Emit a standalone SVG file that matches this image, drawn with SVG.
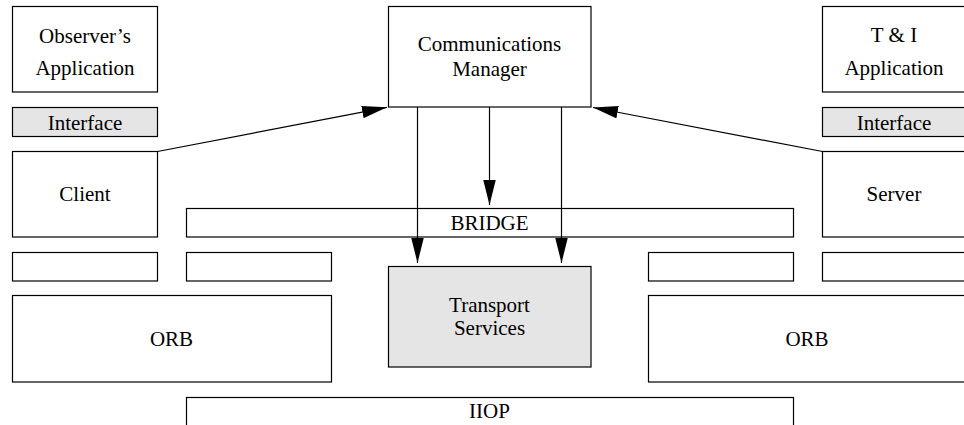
<svg xmlns="http://www.w3.org/2000/svg" width="964" height="425" viewBox="0 0 964 425" font-family="Liberation Serif, DejaVu Serif, serif" font-size="21">
<style>
.b{fill:#fff;stroke:#000;stroke-width:1.2}
.g{fill:#e5e5e5;stroke:#000;stroke-width:1.2}
text{fill:#000;text-anchor:middle}
.c{stroke:#000;stroke-width:1.2;fill:none;marker-end:url(#ah)}
</style>
<defs>
<marker id="ah" markerUnits="userSpaceOnUse" markerWidth="26" markerHeight="13" refX="25" refY="6.25" orient="auto" viewBox="0 0 26 13">
<path d="M0,0 L25,6.25 L0,12.5 z" fill="#000"/>
</marker>
</defs>
<g id="observer-app"><rect class="b" x="12.5" y="6.5" width="145" height="85.5"/><text x="85" y="42.5">Observer’s</text><text x="85" y="75">Application</text></g>
<g id="interface-left"><rect class="g" x="12.5" y="107.5" width="145" height="29"/><text x="85" y="129.5">Interface</text></g>
<g id="client"><rect class="b" x="12.5" y="151.5" width="145" height="85.5"/><text x="85" y="201">Client</text></g>
<g id="comms-manager"><rect class="b" x="388.5" y="6.5" width="202.5" height="100.5"/><text x="489.5" y="50.5">Communications</text><text x="489.5" y="75.5">Manager</text></g>
<g id="ti-app"><rect class="b" x="822.5" y="6.5" width="145" height="85.5"/><text x="894" y="42">T &amp; I</text><text x="894" y="75">Application</text></g>
<g id="interface-right"><rect class="g" x="822.5" y="107.5" width="145" height="29"/><text x="894" y="129.5">Interface</text></g>
<g id="server"><rect class="b" x="822.5" y="151.5" width="145" height="85.5"/><text x="894" y="201">Server</text></g>
<g id="bridge"><rect class="b" x="186.5" y="208.5" width="607" height="28.5"/><text x="489.5" y="230">BRIDGE</text></g>
<g id="slot1"><rect class="b" x="12.5" y="252.5" width="145" height="28.5"/></g>
<g id="slot2"><rect class="b" x="186.5" y="252.5" width="145" height="28.5"/></g>
<g id="slot3"><rect class="b" x="648.5" y="252.5" width="145" height="28.5"/></g>
<g id="slot4"><rect class="b" x="822.5" y="252.5" width="145" height="28.5"/></g>
<g id="orb-left"><rect class="b" x="12.5" y="295.5" width="319" height="86.5"/><text x="171.5" y="345.5">ORB</text></g>
<g id="orb-right"><rect class="b" x="648.5" y="295.5" width="319" height="86.5"/><text x="807" y="345.5">ORB</text></g>
<g id="transport"><rect class="g" x="388.5" y="266.5" width="202.5" height="100.5"/><text x="489.5" y="311.5">Transport</text><text x="489.5" y="335">Services</text></g>
<g id="iiop"><rect class="b" x="186.5" y="397.5" width="607" height="30"/><text x="489.5" y="418">IIOP</text></g>
<g id="connectors">
<line class="c" x1="157.5" y1="151.5" x2="387" y2="107.3"/>
<line class="c" x1="822.5" y1="151.5" x2="593" y2="107.5"/>
<line class="c" x1="417.5" y1="107" x2="417.5" y2="263"/>
<line class="c" x1="489.5" y1="107" x2="489.5" y2="205"/>
<line class="c" x1="561.5" y1="107" x2="561.5" y2="263"/>
</g>
</svg>
